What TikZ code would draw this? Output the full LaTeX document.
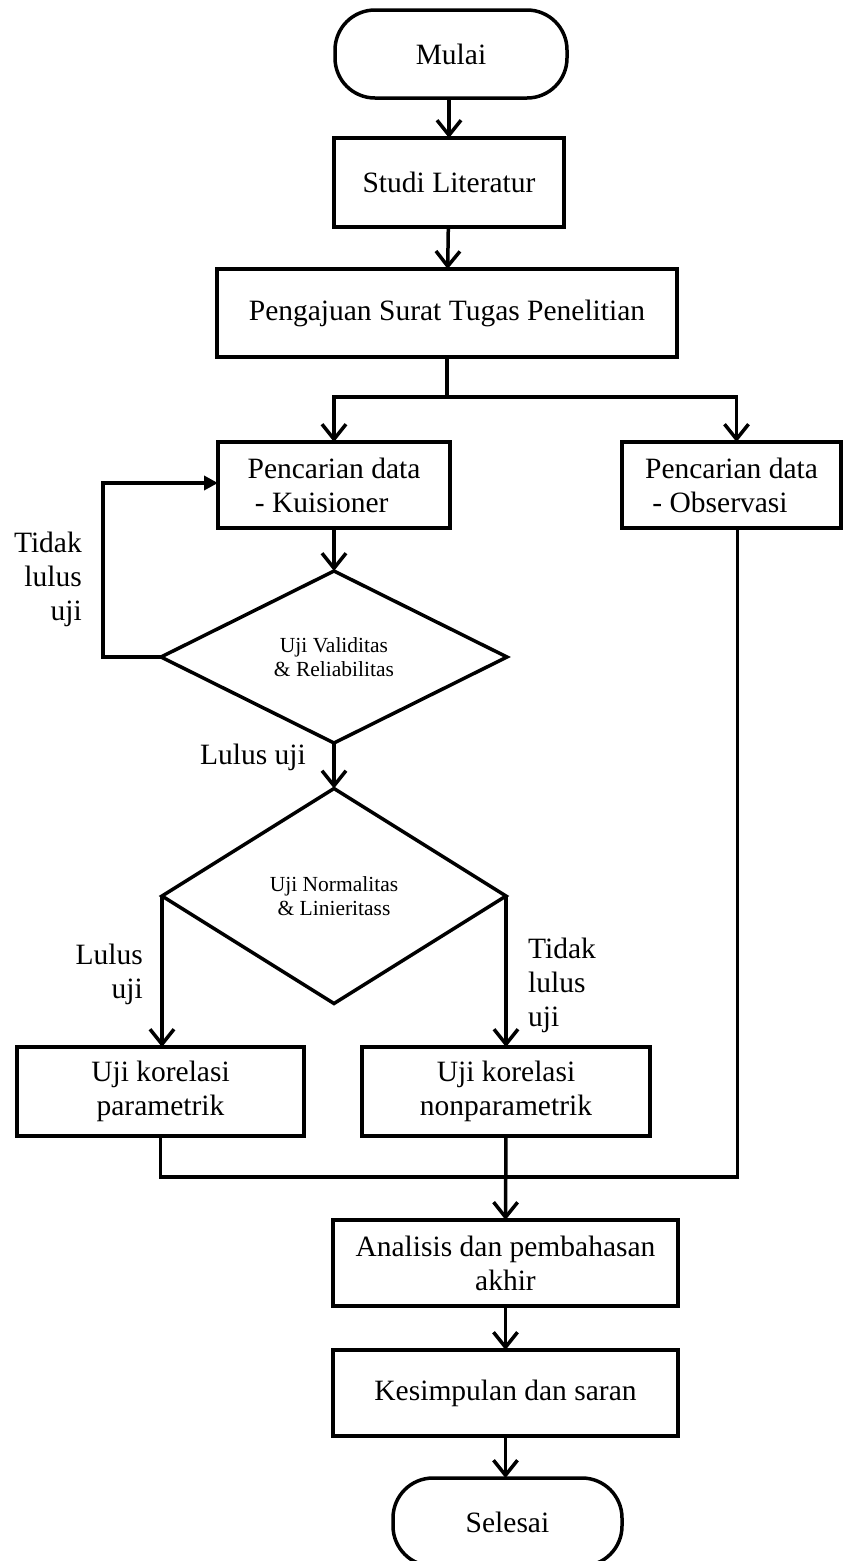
\documentclass[tikz,border=0pt]{standalone}
\usepackage{fontspec}
\setmainfont{Liberation Serif}
\usetikzlibrary{arrows.meta,shapes.geometric}
\tikzset{
  base/.style={draw=black, line width=3.5pt, inner sep=0pt, outer sep=0pt, font=\fontsize{29.5}{34}\selectfont},
  box/.style={base, rectangle, align=center},
  term/.style={base, rectangle, rounded corners=40pt, align=center},
  decide/.style={base, diamond, aspect=2, align=center, font=\fontsize{21.5}{24}\selectfont},
  lbl/.style={inner sep=0pt, font=\fontsize{29.5}{34}\selectfont},
  conn/.style={line width=3.5pt, line join=miter},
  arr/.style={conn, -{Straight Barb[length=15pt,width=24pt,line width=3.5pt]}},
  arrf/.style={conn, -{Triangle[length=14pt,width=14pt]}},
}
\begin{document}
\begin{tikzpicture}[x=1pt,y=-1pt]
\useasboundingbox (0,0) rectangle (843,1561);
\node[term, minimum width=232, minimum height=88] (mulai) at (451,54) {Mulai};
\node[box, minimum width=230, minimum height=89] (studi) at (449,182.5) {Studi Literatur};
\node[box, minimum width=460, minimum height=88] (peng) at (447,313) {Pengajuan Surat Tugas Penelitian};
\node[box, align=left, minimum width=232, minimum height=86] (kuis) at (334,485) {Pencarian data\\\ - Kuisioner};
\node[box, align=left, minimum width=219, minimum height=86] (obs) at (731.5,485) {Pencarian data\\\ - Observasi};
\node[decide, minimum width=346, minimum height=172] (d1) at (334,657) {Uji Validitas\\\& Reliabilitas};
\node[decide, minimum width=344, minimum height=215] (d2) at (334,896) {Uji Normalitas\\\& Linieritass};
\node[box, minimum width=287, minimum height=89] (par) at (160.5,1091.5) {Uji korelasi\\parametrik};
\node[box, minimum width=288, minimum height=89] (npar) at (506,1091.5) {Uji korelasi\\nonparametrik};
\node[box, minimum width=345, minimum height=86] (anal) at (505.5,1263) {Analisis dan pembahasan\\akhir};
\node[box, minimum width=345, minimum height=86] (kes) at (505.5,1393) {Kesimpulan dan saran};
\node[term, minimum width=229, minimum height=88] (sel) at (507.5,1522) {Selesai};

\node[lbl, align=right, anchor=east] (t1) at (82,579) {Tidak\\lulus\\uji};
\node[lbl, anchor=center] (l1) at (253,757) {Lulus uji};
\node[lbl, align=right, anchor=east] (l2) at (143,974) {Lulus\\uji};
\node[lbl, align=left, anchor=west] (t2) at (528,985) {Tidak\\lulus\\uji};

\coordinate (sp) at (447,397);
\coordinate (j) at (506,1177);
\coordinate (loop) at (103,657);

\draw[arr] (mulai.south -| studi.north) -- (studi.north);
\draw[arr] (studi) -- (peng);
\draw[conn] (peng.south) -- (sp);
\draw[arr] (sp) -| (kuis.north);
\draw[arr] (sp) -| ([xshift=5]obs.north);
\draw[arr] (kuis) -- (d1);
\draw[arrf] (d1.west) -- (loop) |- ([yshift=2]kuis.west);
\draw[arr] (d1.south) -- (d2.north);
\draw[arr] (d2.west) -- (d2.west |- par.north);
\draw[arr] (d2.east) -- (d2.east |- npar.north);
\draw[conn] (par.south) |- (j);
\draw[conn] ([xshift=6]obs.south) |- (j);
\draw[arr] (npar.south) -- (anal.north);
\draw[arr] (anal) -- (kes);
\draw[arr] (kes.south) -- (kes.south |- sel.north);
\end{tikzpicture}
\end{document}
